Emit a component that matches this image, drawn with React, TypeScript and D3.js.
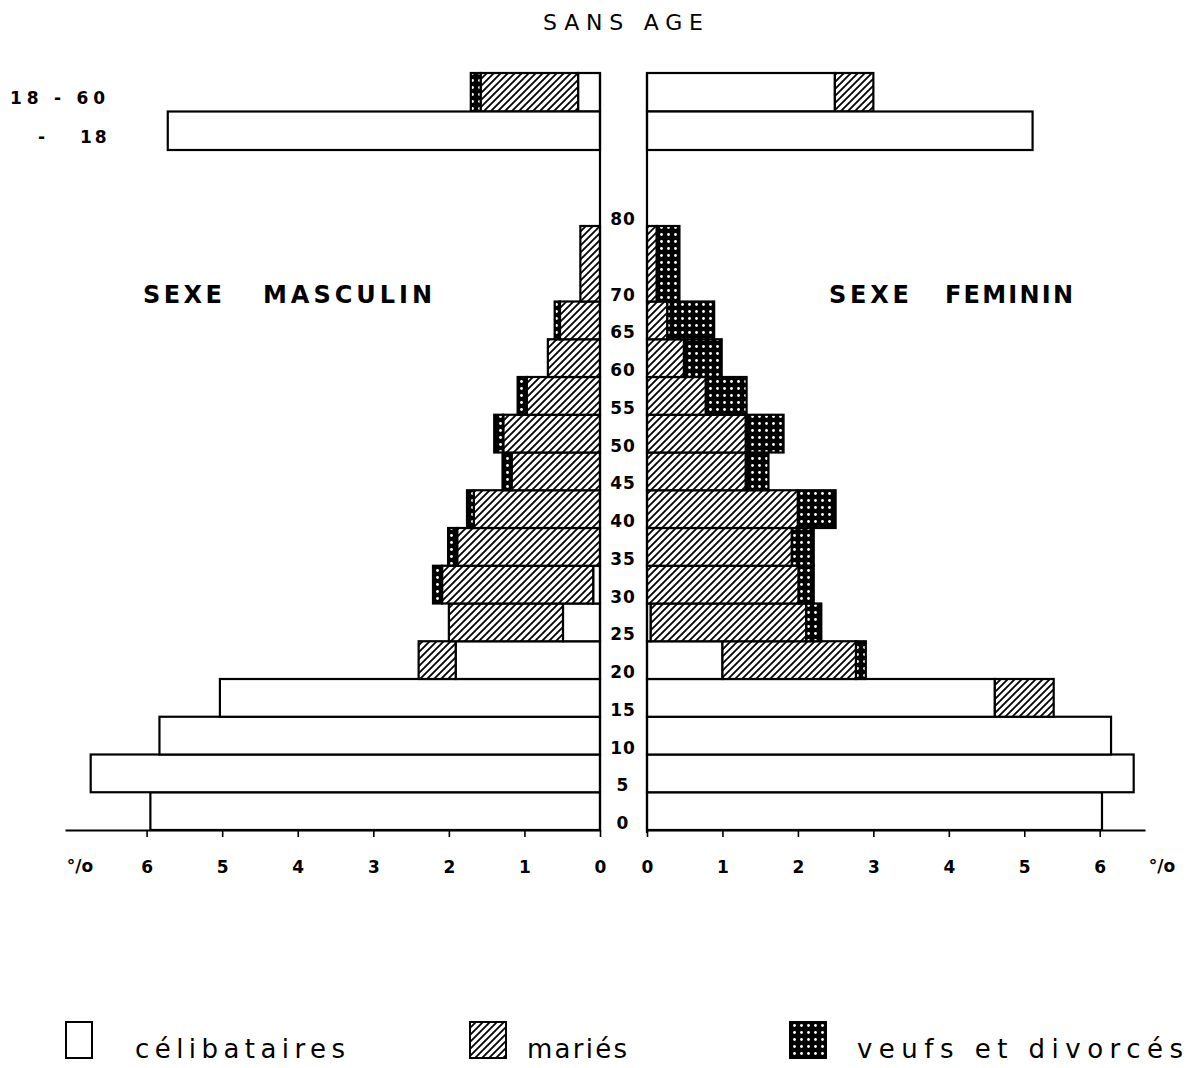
import React, { useEffect, useRef } from "react";
import * as d3 from "d3";

// age groups (lower / upper bound, years)
const ageFrom = [0, 5, 10, 15, 20, 25, 30, 35, 40, 45, 50, 55, 60, 65, 70];
const ageTo = [5, 10, 15, 20, 25, 30, 35, 40, 45, 50, 55, 60, 65, 70, 80];
const ageTicks = [0, 5, 10, 15, 20, 25, 30, 35, 40, 45, 50, 55, 60, 65, 70, 80];

// sexe masculin (% of population)
const maleCel = [5.95, 6.74, 5.83, 5.03, 1.91, 0.49, 0.09, 0, 0, 0, 0, 0, 0, 0, 0];
const maleMar = [0, 0, 0, 0, 0.49, 1.51, 2.0, 1.89, 1.67, 1.17, 1.28, 0.97, 0.69, 0.53, 0.26];
const maleVeuf = [0, 0, 0, 0, 0, 0, 0.12, 0.12, 0.09, 0.12, 0.12, 0.12, 0, 0.07, 0];

// sexe feminin
const femCel = [6.03, 6.45, 6.15, 4.61, 1.0, 0.05, 0, 0, 0, 0, 0, 0, 0, 0, 0];
const femMar = [0, 0, 0, 0.78, 1.77, 2.06, 2.01, 1.92, 2.0, 1.31, 1.31, 0.78, 0.49, 0.27, 0.13];
const femVeuf = [0, 0, 0, 0, 0.13, 0.2, 0.2, 0.29, 0.5, 0.3, 0.5, 0.54, 0.5, 0.62, 0.3];

// sans age
const sansLabels = ["18 - 60", "- 18"];
const sansMaleCel = [0.29, 5.72];
const sansMaleMar = [1.29, 0];
const sansMaleVeuf = [0.13, 0];
const sansFemCel = [2.49, 5.11];
const sansFemMar = [0.51, 0];
const sansFemVeuf = [0, 0];

const pctTicks = [0, 1, 2, 3, 4, 5, 6];

const legendItems = ["célibataires", "mariés", "veufs et divorcés"];

const FILLS = ["#fff", "url(#hatch)", "url(#dots)"];
const FONT = "'DejaVu Sans', sans-serif";

const W = 1188;
const H = 1068;

const xL = d3.scaleLinear().domain([0, 7.08]).range([600, 65]);
const xR = d3.scaleLinear().domain([0, 6.6]).range([647, 1145]);
const y = d3.scaleLinear().domain([0, 80]).range([830, 226]);
const ySans = d3.scaleBand().domain(sansLabels).range([73, 150]);

type Seg = { x: number; y: number; w: number; h: number; fill: string };

function stack(scale: d3.ScaleLinear<number, number>, vals: number[], y0: number, y1: number): Seg[] {
  const out: Seg[] = [];
  let acc = 0;
  vals.forEach((v, k) => {
    if (v <= 0) return;
    const a = scale(acc);
    const b = scale(acc + v);
    out.push({ x: Math.min(a, b), y: y0, w: Math.abs(b - a), h: y1 - y0, fill: FILLS[k] });
    acc += v;
  });
  return out;
}

export default function App() {
  const axL = useRef<SVGGElement>(null);
  const axR = useRef<SVGGElement>(null);

  useEffect(() => {
    const style = (g: d3.Selection<SVGGElement, unknown, null, undefined>) => {
      g.select(".domain").attr("stroke-width", 2.2);
      g.selectAll(".tick line").attr("stroke-width", 1.6);
      g.selectAll(".tick text")
        .attr("font-family", FONT)
        .attr("font-size", 17)
        .attr("font-weight", "bold")
        .attr("fill", "#000");
    };
    const mk = (s: d3.ScaleLinear<number, number>) =>
      d3.axisBottom(s).tickValues(pctTicks).tickFormat(d3.format("d")).tickSize(7).tickSizeOuter(0).tickPadding(24);
    const gl = d3.select(axL.current!);
    gl.selectAll("*").remove();
    gl.call(mk(xL));
    style(gl);
    const gr = d3.select(axR.current!);
    gr.selectAll("*").remove();
    gr.call(mk(xR));
    style(gr);
  }, []);

  const segs: Seg[] = [];
  ageFrom.forEach((a, i) => {
    const y0 = y(ageTo[i]);
    const y1 = y(a);
    segs.push(...stack(xL, [maleCel[i], maleMar[i], maleVeuf[i]], y0, y1));
    segs.push(...stack(xR, [femCel[i], femMar[i], femVeuf[i]], y0, y1));
  });
  sansLabels.forEach((l, i) => {
    const y0 = ySans(l)!;
    const y1 = y0 + ySans.bandwidth();
    segs.push(...stack(xL, [sansMaleCel[i], sansMaleMar[i], sansMaleVeuf[i]], y0, y1));
    segs.push(...stack(xR, [sansFemCel[i], sansFemMar[i], sansFemVeuf[i]], y0, y1));
  });

  const legendX = [66, 470, 790];
  const legendTextX = [135, 527, 857];
  const legendTextW = [210, 100, 326];
  const sansY = (l: string) => ySans(l)! + ySans.bandwidth() / 2 + 12;

  return (
    <svg width={W} height={H} style={{ position: "absolute", left: 0, top: 0, background: "#fff" }}>
      <defs>
        <pattern id="hatch" patternUnits="userSpaceOnUse" width={7} height={7}>
          <rect width={7} height={7} fill="#fff" />
          <path d="M-1,1 l2,-2 M0,7 l7,-7 M6,8 l2,-2" stroke="#000" strokeWidth={1.8} />
        </pattern>
        <pattern id="dots" patternUnits="userSpaceOnUse" width={7} height={7}>
          <rect width={7} height={7} fill="#000" />
          <circle cx={3.5} cy={3.5} r={1.4} fill="#fff" />
        </pattern>
      </defs>

      <text x={543} y={30} fontFamily={FONT} fontSize={22} textLength={160} lengthAdjust="spacing">
        SANS AGE
      </text>

      {/* sans age row labels */}
      <text x={10} y={sansY(sansLabels[0])} fontFamily={FONT} fontSize={17} fontWeight="bold" textLength={95} lengthAdjust="spacing">
        {sansLabels[0]}
      </text>
      <text x={38} y={sansY(sansLabels[1])} fontFamily={FONT} fontSize={17} fontWeight="bold">
        -
      </text>
      <text x={80} y={sansY(sansLabels[1])} fontFamily={FONT} fontSize={17} fontWeight="bold" letterSpacing={3}>
        18
      </text>

      {segs.map((s, i) => (
        <rect key={i} x={s.x} y={s.y} width={s.w} height={s.h} fill={s.fill} stroke="#000" strokeWidth={2.2} />
      ))}

      {/* central column */}
      <line x1={600} x2={600} y1={73} y2={830} stroke="#000" strokeWidth={2.2} />
      <line x1={647} x2={647} y1={73} y2={833} stroke="#000" strokeWidth={2.2} />

      {ageTicks.map((a) => (
        <text key={a} x={623} y={y(a) - 1} textAnchor="middle" fontFamily={FONT} fontSize={17} fontWeight="bold" letterSpacing={1}>
          {a}
        </text>
      ))}

      <text x={143} y={303} fontFamily={FONT} fontSize={24} fontWeight="bold" textLength={79} lengthAdjust="spacing">
        SEXE
      </text>
      <text x={263} y={303} fontFamily={FONT} fontSize={24} fontWeight="bold" textLength={169} lengthAdjust="spacing">
        MASCULIN
      </text>
      <text x={829} y={303} fontFamily={FONT} fontSize={24} fontWeight="bold" textLength={80} lengthAdjust="spacing">
        SEXE
      </text>
      <text x={945} y={303} fontFamily={FONT} fontSize={24} fontWeight="bold" textLength={128} lengthAdjust="spacing">
        FEMININ
      </text>

      <g ref={axL} transform="translate(0,830)" />
      <g ref={axR} transform="translate(0,830)" />
      <text x={80} y={872} textAnchor="middle" fontFamily={FONT} fontSize={17} fontWeight="bold">
        °/o
      </text>
      <text x={1162} y={872} textAnchor="middle" fontFamily={FONT} fontSize={17} fontWeight="bold">
        °/o
      </text>

      {legendItems.map((t, i) => (
        <g key={t}>
          <rect x={legendX[i]} y={1022} width={i === 0 ? 26 : 36} height={36} fill={FILLS[i]} stroke="#000" strokeWidth={2} />
          <text x={legendTextX[i]} y={1058} fontFamily={FONT} fontSize={26} textLength={legendTextW[i]} lengthAdjust="spacing">
            {t}
          </text>
        </g>
      ))}
    </svg>
  );
}
